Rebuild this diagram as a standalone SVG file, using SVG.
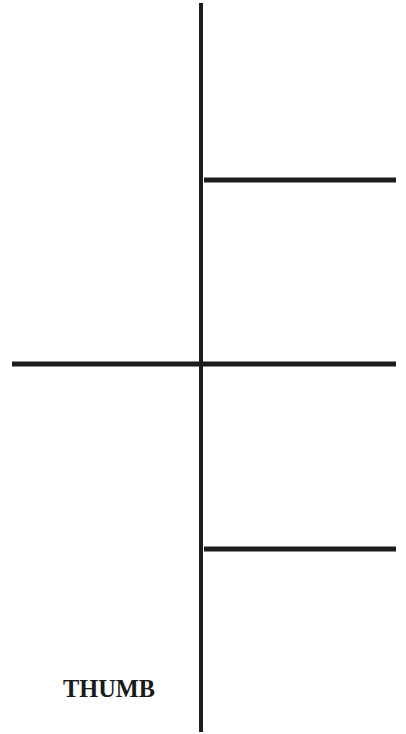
<svg xmlns="http://www.w3.org/2000/svg" width="406" height="734" viewBox="0 0 406 734">
<style>
.ln{stroke:#1c1c1c;fill:none;stroke-linecap:butt}
.lbl{font-family:"Liberation Serif","DejaVu Serif",serif;font-weight:bold;font-size:25px;fill:#1a1a1a}
</style>
<rect width="406" height="734" fill="#ffffff"/>
<g id="connectors">
<line class="ln" x1="201" y1="3" x2="201" y2="732" stroke-width="4" stroke="#2a2a2a"/>
<line class="ln" x1="204" y1="180" x2="396" y2="180" stroke-width="5"/>
<line class="ln" x1="12" y1="364" x2="396" y2="364" stroke-width="5"/>
<line class="ln" x1="204" y1="549" x2="396" y2="549" stroke-width="5"/>
</g>
<g id="thumb">
<text class="lbl" x="63" y="697" textLength="92" lengthAdjust="spacingAndGlyphs">THUMB</text>
</g>
</svg>
